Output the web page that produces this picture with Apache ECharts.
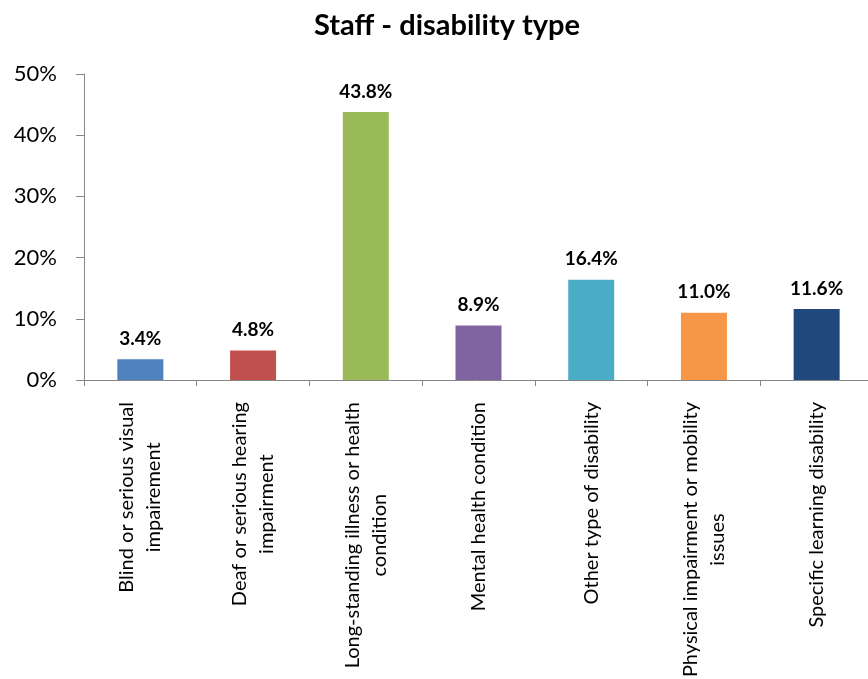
<!DOCTYPE html>
<html>
<head>
<meta charset="utf-8">
<script src="https://cdn.jsdelivr.net/npm/echarts@6/dist/echarts.min.js"></script>
<style>
  html, body { margin: 0; padding: 0; background: #ffffff; }
  #chart { width: 868px; height: 679px; }
</style>
</head>
<body>
<div id="chart"></div>
<script>
// Disability categories (each entry is one label line list)
const categories = [
  ['Blind or serious visual', 'impairement'],
  ['Deaf or serious hearing', 'impairment'],
  ['Long-standing illness or health', 'condition'],
  ['Mental health condition'],
  ['Other type of disability'],
  ['Physical impairment or mobility', 'issues'],
  ['Specific learning disability']
];
// Share of staff in each category (%)
const values = [3.4, 4.8, 43.8, 8.9, 16.4, 11.0, 11.6];
const barColors = ['#4F81BD', '#C0504D', '#9BBB59', '#8064A2', '#4BACC6', '#F79646', '#1F497D'];
const yTicks = [0, 10, 20, 30, 40, 50];

const FONT = 'Lato';
const AXIS_GREY = '#868686';

const chart = echarts.init(document.getElementById('chart'), null, { renderer: 'canvas' });

chart.setOption({
  backgroundColor: '#ffffff',
  animation: false,
  title: {
    text: 'Staff - disability type',
    left: 309,
    top: 6,
    textStyle: { fontFamily: FONT, fontWeight: 'bold', fontSize: 29, color: '#000000' }
  },
  grid: {
    left: 84,
    top: 74,
    width: 789,
    height: 306,
    outerBoundsMode: 'none',
    containLabel: false
  },
  xAxis: {
    type: 'category',
    data: categories.map(c => c.join('\n')),
    boundaryGap: true,
    axisLine: { show: true, lineStyle: { color: AXIS_GREY, width: 1 } },
    axisTick: { show: true, length: 6, inside: false, lineStyle: { color: AXIS_GREY } },
    splitLine: { show: false },
    axisLabel: {
      interval: 0,
      rotate: 90,
      margin: 22,
      hideOverlap: false,
      color: '#000000',
      fontFamily: FONT,
      fontSize: 20,
      formatter: v => v.split('\n').map(s => '{c|' + s + '}').join('\n'),
      rich: {
        c: { align: 'center', fontFamily: FONT, fontSize: 20, lineHeight: 27, color: '#000000' }
      }
    }
  },
  yAxis: {
    type: 'value',
    min: yTicks[0],
    max: yTicks[yTicks.length - 1],
    interval: 10,
    axisLine: { show: true, lineStyle: { color: AXIS_GREY, width: 1 } },
    axisTick: { show: true, length: 8, lineStyle: { color: AXIS_GREY } },
    splitLine: { show: false },
    axisLabel: {
      margin: 27,
      color: '#000000',
      fontFamily: FONT,
      fontSize: 22,
      formatter: '{value}%'
    }
  },
  series: [{
    type: 'bar',
    barWidth: 46,
    data: values.map((v, i) => ({ value: v, itemStyle: { color: barColors[i] } })),
    label: {
      show: true,
      position: 'top',
      distance: 11,
      fontFamily: FONT,
      fontWeight: 'bold',
      fontSize: 19,
      color: '#000000',
      formatter: p => p.value.toFixed(1) + '%'
    }
  }]
});
</script>
</body>
</html>
